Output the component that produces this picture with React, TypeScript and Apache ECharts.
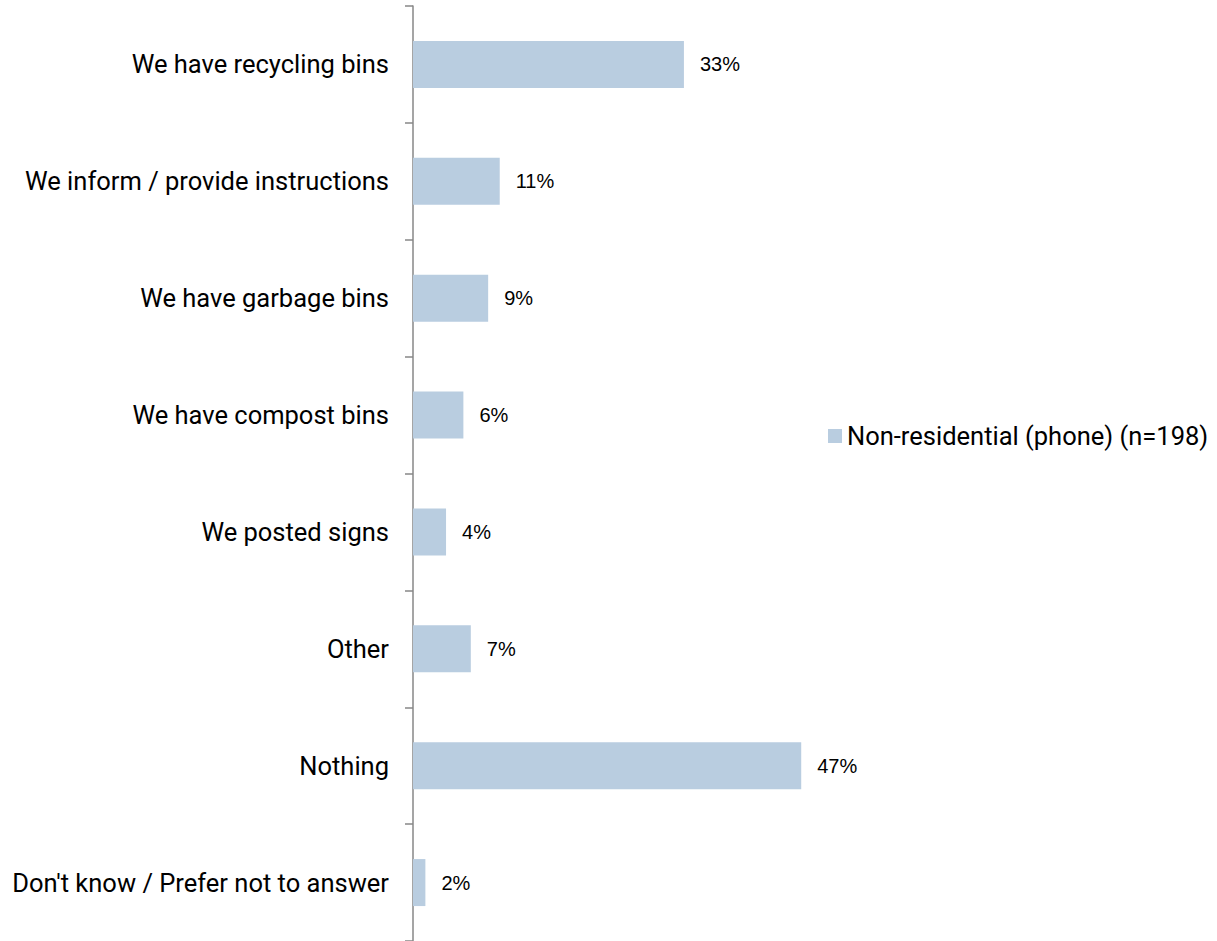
import React, { useEffect, useRef } from "react";
import * as echarts from "echarts";

const categories = [
  "We have recycling bins",
  "We inform / provide instructions",
  "We have garbage bins",
  "We have compost bins",
  "We posted signs",
  "Other",
  "Nothing",
  "Don't know / Prefer not to answer",
];
const values = [32.8, 10.5, 9.1, 6.1, 4.0, 7.0, 47.0, 1.5];
const seriesName = "Non-residential (phone) (n=198)";

export default function App() {
  const ref = useRef<HTMLDivElement>(null);
  useEffect(() => {
    if (!ref.current) return;
    const chart = echarts.init(ref.current, undefined, { renderer: "svg" });
    chart.setOption({
      animation: false,
      grid: { left: 413, top: 6, width: 413, bottom: 0, containLabel: false },
      legend: {
        show: true,
        left: 828,
        top: 423,
        padding: 0,
        orient: "vertical",
        icon: "rect",
        itemWidth: 14,
        itemHeight: 14,
        itemGap: 4,
        textStyle: { fontFamily: "Roboto", fontSize: 25.5, color: "#000" },
        data: [seriesName],
      },
      xAxis: {
        type: "value",
        min: 0,
        max: 50,
        show: false,
      },
      yAxis: {
        type: "category",
        data: categories,
        inverse: true,
        axisLine: { show: true, lineStyle: { color: "#878787", width: 1.5 } },
        axisTick: { show: true, length: 8, lineStyle: { color: "#878787", width: 1.5 } },
        axisLabel: { fontFamily: "Roboto", fontSize: 25.5, color: "#000", margin: 24 },
        splitLine: { show: false },
      },
      series: [
        {
          name: seriesName,
          type: "bar",
          data: values,
          barWidth: 47,
          itemStyle: { color: "#B9CDE0" },
          label: {
            show: true,
            position: "right",
            distance: 16,
            fontFamily: "Liberation Sans",
            fontSize: 20,
            color: "#000",
            formatter: (p: any) => Math.round(p.value) + "%",
          },
        },
      ],
    });
    return () => chart.dispose();
  }, []);
  return (
    <div
      ref={ref}
      style={{ position: "absolute", left: 0, top: 0, width: 1217, height: 941, background: "#fff" }}
    />
  );
}
